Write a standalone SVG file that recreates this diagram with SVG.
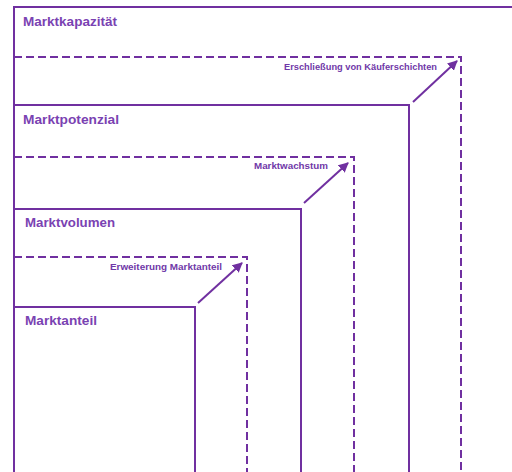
<svg xmlns="http://www.w3.org/2000/svg" width="512" height="472" viewBox="0 0 512 472">
<style>
.solid{fill:none;stroke:#7030A0;stroke-width:2}
.dash{fill:none;stroke:#7030A0;stroke-width:2;stroke-dasharray:8 4}
.main{font-family:"Liberation Sans",Arial,sans-serif;font-weight:bold;font-size:12.5px;fill:#7A42B2}
.small{font-family:"Liberation Sans",Arial,sans-serif;font-weight:bold;font-size:9px;fill:#7038A8;text-anchor:end}
.arr{stroke:#7030A0;stroke-width:2;fill:none;marker-end:url(#ah)}
</style>
<defs>
<marker id="ah" viewBox="0 0 10 10" refX="9" refY="5" markerWidth="5" markerHeight="5" orient="auto" markerUnits="strokeWidth">
<path d="M0,0 L10,5 L0,10 z" fill="#7030A0"/>
</marker>
</defs>
<rect width="512" height="472" fill="#fff"/>
<g id="marktkapazitaet">
<path class="solid" d="M14,480 V7 H520"/>
<text class="main" x="23" y="26" textLength="94" lengthAdjust="spacingAndGlyphs">Marktkapazität</text>
</g>
<g id="erschliessung-zone">
<path class="dash" d="M14,57 H461 V480"/>
<text class="small" x="437" y="69.5" textLength="153" lengthAdjust="spacingAndGlyphs">Erschließung von Käuferschichten</text>
</g>
<g id="marktpotenzial">
<path class="solid" d="M14,105 H409 V480"/>
<text class="main" x="23" y="124" textLength="96" lengthAdjust="spacingAndGlyphs">Marktpotenzial</text>
</g>
<g id="marktwachstum-zone">
<path class="dash" d="M14,157 H354 V480"/>
<text class="small" x="328" y="168.5" textLength="74" lengthAdjust="spacingAndGlyphs">Marktwachstum</text>
</g>
<g id="marktvolumen">
<path class="solid" d="M14,209 H301 V480"/>
<text class="main" x="25" y="226.5" textLength="90" lengthAdjust="spacingAndGlyphs">Marktvolumen</text>
</g>
<g id="erweiterung-zone">
<path class="dash" d="M14,257 H247 V480"/>
<text class="small" x="222" y="269.5" textLength="112" lengthAdjust="spacingAndGlyphs">Erweiterung Marktanteil</text>
</g>
<g id="marktanteil">
<path class="solid" d="M14,307 H195 V480"/>
<text class="main" x="25" y="325" textLength="72" lengthAdjust="spacingAndGlyphs">Marktanteil</text>
</g>
<g id="connectors">
<line class="arr" x1="413" y1="102" x2="457" y2="61"/>
<line class="arr" x1="304" y1="203" x2="348" y2="163"/>
<line class="arr" x1="198" y1="303" x2="242" y2="263"/>
</g>
</svg>
